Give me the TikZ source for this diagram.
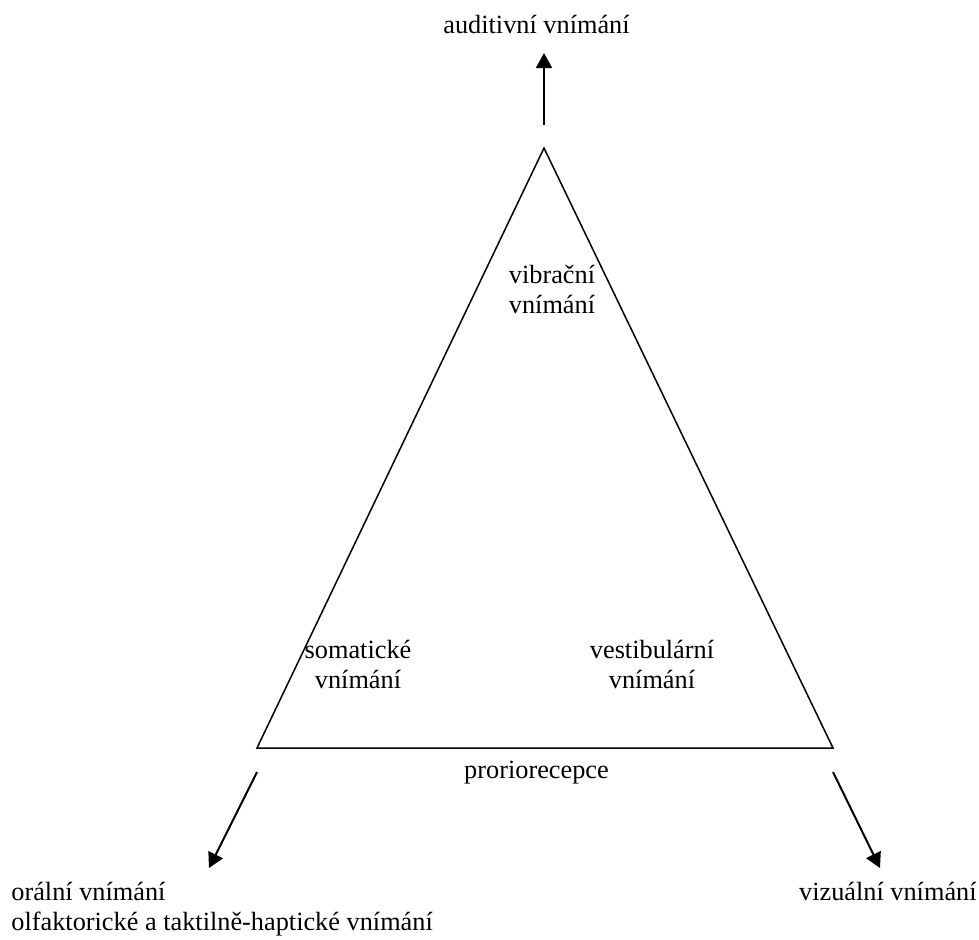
\documentclass[tikz,border=0pt]{standalone}
\usepackage{fontspec}
\setmainfont{Liberation Serif}
\usetikzlibrary{positioning,arrows.meta}

\begin{document}
\begin{tikzpicture}[x=0.5pt,y=-0.5pt,
  lbl/.style={inner sep=0pt,font=\fontsize{13.15}{15}\selectfont},
  arr/.style={line width=1pt,-{Triangle[length=7.5pt,width=8pt]}}]
\useasboundingbox (0,0) rectangle (979,939);

\def\xl{257}
\def\xm{544}
\def\xr{833}
\def\ytop{148}
\def\ybot{748}

\coordinate (apex) at (\xm,\ytop);
\coordinate (bl) at (\xl,\ybot);
\coordinate (br) at (\xr,\ybot);
\draw[line width=0.75pt] (apex) -- (bl) -- (br) -- cycle;

\coordinate (up0) at (\xm,125);
\coordinate (up1) at (\xm,53);
\coordinate (dl0) at (\xl,772);
\coordinate (dl1) at (209,868);
\coordinate (dr0) at (\xr,772);
\coordinate (dr1) at (880,868);
\draw[arr] (up0) -- (up1);
\draw[arr] (dl0) -- (dl1);
\draw[arr] (dr0) -- (dr1);

% base of a two-line node = baseline of its last line
\node[lbl,anchor=base] (aud) at (536.5,33) {auditivní vnímání};
\node[lbl,align=center,anchor=base] (vib) at (552,313) {vibrační\\vnímání};
\node[lbl,align=center,anchor=base] (som) at (358,688) {somatické\\vnímání};
\node[lbl,align=center,anchor=base] (vest) at (652,688) {vestibulární\\vnímání};
\node[lbl,anchor=base] (prop) at (536.5,778) {proriorecepce};
\node[lbl,align=left,anchor=base west] (oral) at (11,930) {orální vnímání\\olfaktorické a taktilně-haptické vnímání};
\node[lbl,anchor=base east] (vis) at (977,900) {vizuální vnímání};
\end{tikzpicture}
\end{document}
